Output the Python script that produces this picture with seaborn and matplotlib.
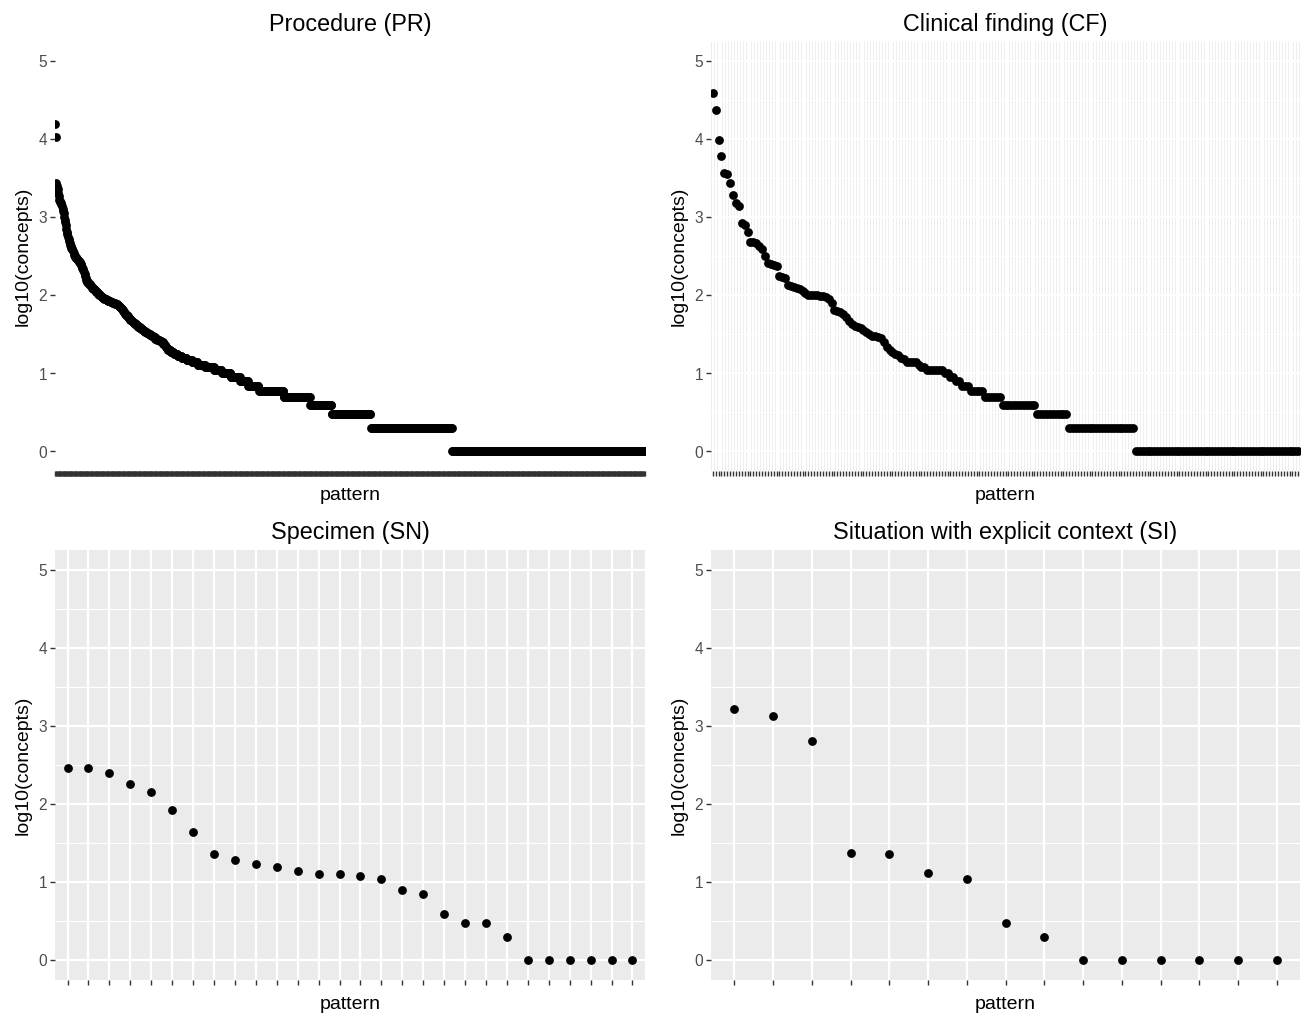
import numpy as np
import pandas as pd
import matplotlib
matplotlib.use("Agg")
import matplotlib.pyplot as plt
import seaborn as sns
from matplotlib.ticker import MultipleLocator

# ---------------- data ----------------
# Procedure (PR): concepts per pattern, sorted descending (head listed, tail as frequency table)
pr_head_concepts = [
    16000, 10700, 2800, 2500, 2300, 2090, 1900, 1700, 1650, 1600, 1550,
    1480, 1400, 1300, 1220, 1150, 1000, 930, 870, 800, 708, 660, 620, 560,
    525, 500, 470, 450, 430, 410, 400, 390, 370, 350, 335, 320,
    316, 310, 300, 295, 290, 285, 280, 272, 268, 263, 255, 245, 235, 225, 218,
    214, 200, 190, 180, 170, 160, 155, 151, 148, 145, 142, 140, 137, 134, 131, 128,
    126, 124, 122, 120, 118, 116, 114, 112, 111, 110, 108, 106, 104, 102, 100, 99,
    98, 96, 95, 94, 93, 92, 91, 90, 90, 89, 88, 87, 87, 86, 85, 84, 84,
    83, 83, 82, 82, 81, 80, 80, 79, 79, 78, 78, 77, 77,
    76, 75, 74, 73, 72, 71, 70, 68, 67, 66, 64, 62, 61, 60, 58, 57, 56, 55,
    54, 53, 52, 51, 50, 49, 48, 48, 47, 46, 46,
    45, 44, 44, 43, 43, 42, 42, 41, 40, 40, 39, 39, 38, 38, 37, 37, 36, 36,
    35, 35, 35, 34, 34, 34, 33, 33, 33, 32, 32, 32, 31, 31, 31, 30, 30, 30,
    29, 29, 29, 28, 28, 28, 28, 27, 27, 27, 27, 26, 26, 26, 26, 25, 25, 25,
    24, 24, 23, 23, 22, 22, 21, 21,
]
pr_tail_concepts = [20, 19, 18, 17, 16, 15, 14, 13, 12, 11, 10, 9, 8, 7, 6, 5, 4, 3, 2, 1]
pr_tail_patterns = [5, 6, 7, 7, 9, 10, 10, 14, 16, 14, 16, 17, 15, 19, 45, 48, 39, 71, 147, 350]

# Clinical finding (CF): head read as log10 values, tail as frequency table
cf_head_log = [
    4.59, 4.38, 3.99, 3.79, 3.57, 3.56, 3.44, 3.29, 3.18, 3.15,
    2.93, 2.90, 2.82, 2.68, 2.68, 2.675, 2.63, 2.60, 2.50, 2.42,
    2.40, 2.39, 2.38, 2.25, 2.24, 2.23, 2.14, 2.12, 2.11, 2.10,
    2.08, 2.06, 2.03, 2.01, 2.005, 2.0, 2.0, 1.995, 1.99, 1.98,
    1.95, 1.91, 1.82, 1.80, 1.79, 1.76, 1.73, 1.67, 1.64, 1.61,
    1.60, 1.58, 1.56, 1.53, 1.50, 1.48, 1.48, 1.47, 1.46, 1.40,
    1.34, 1.30, 1.27, 1.255, 1.24, 1.20, 1.18,
]
cf_tail_concepts = [14, 13, 12, 11, 10, 9, 8, 7, 6, 5, 4, 3, 2, 1]
cf_tail_patterns = [4, 1, 2, 6, 2, 2, 2, 3, 5, 6, 12, 11, 23, 57]

# Specimen (SN)
sn_log = [2.46, 2.46, 2.40, 2.26, 2.15, 1.92, 1.64, 1.36, 1.28, 1.23,
          1.20, 1.14, 1.11, 1.11, 1.08, 1.04, 0.90, 0.845, 0.60, 0.477,
          0.477, 0.301, 0, 0, 0, 0, 0, 0]

# Situation with explicit context (SI)
si_log = [3.22, 3.13, 2.81, 1.37, 1.36, 1.115, 1.04, 0.477, 0.301, 0, 0, 0, 0, 0, 0]

titles = ["Procedure (PR)", "Clinical finding (CF)", "Specimen (SN)",
          "Situation with explicit context (SI)"]
y_ticks = [0, 1, 2, 3, 4, 5]


def make_df(logs):
    logs = np.asarray(logs, dtype=float)
    return pd.DataFrame({"pattern": np.arange(len(logs)), "log10(concepts)": logs})


pr_y = np.concatenate([np.log10(pr_head_concepts),
                       np.log10(np.repeat(pr_tail_concepts, pr_tail_patterns))])
cf_y = np.concatenate([cf_head_log,
                       np.log10(np.repeat(cf_tail_concepts, cf_tail_patterns))])
frames = [make_df(pr_y), make_df(cf_y), make_df(sn_log), make_df(si_log)]

# ---------------- plotting ----------------
sns.set_theme(style="darkgrid")
plt.rcParams['font.family'] = ['Liberation Sans', 'DejaVu Sans']

W, H = 1303, 1013
fig = plt.figure(figsize=(W / 100, H / 100), dpi=100)
fig.patch.set_facecolor("white")

# panel boxes in pixels: left, top, right, bottom
boxes = [(55, 42, 645, 471), (711, 42, 1300, 471),
         (55, 550, 645, 980), (711, 550, 1300, 980)]

for df, title, (l, t, r, b) in zip(frames, titles, boxes):
    ax = fig.add_axes([l / W, (H - b) / H, (r - l) / W, (b - t) / H])
    ax.set_facecolor("#EBEBEB")
    ax.set_axisbelow(True)
    n = len(df)
    sns.scatterplot(data=df, x="pattern", y="log10(concepts)", ax=ax,
                    color="black", s=40, linewidth=0, zorder=3, legend=False)
    ax.set_xlim(-0.6, n - 1 + 0.6)
    ax.set_ylim(-0.25, 5.25)
    ax.set_xticks(np.arange(n))
    ax.set_xticklabels([])
    ax.set_yticks(y_ticks)
    ax.set_yticklabels([str(v) for v in y_ticks])
    ax.yaxis.set_minor_locator(MultipleLocator(0.5))
    ax.grid(which="major", axis="both", color="white", linewidth=1.6)
    ax.grid(which="minor", axis="y", color="white", linewidth=0.8)
    ax.grid(which="minor", axis="x", visible=False)
    for s in ax.spines.values():
        s.set_visible(False)
    ax.tick_params(axis="both", which="major", bottom=True, left=True,
                   length=3.6, width=1.0, color="#333333",
                   labelsize=11.2, labelcolor="#4D4D4D", pad=2)
    ax.tick_params(axis="both", which="minor", bottom=False, left=False)
    ax.set_xlabel("pattern", fontsize=14, color="black", labelpad=6)
    ax.set_ylabel("log10(concepts)", fontsize=14, color="black", labelpad=5)
    ax.set_title(title, fontsize=16.8, color="black", pad=8)

fig.savefig("out.png", dpi=100, facecolor="white")
